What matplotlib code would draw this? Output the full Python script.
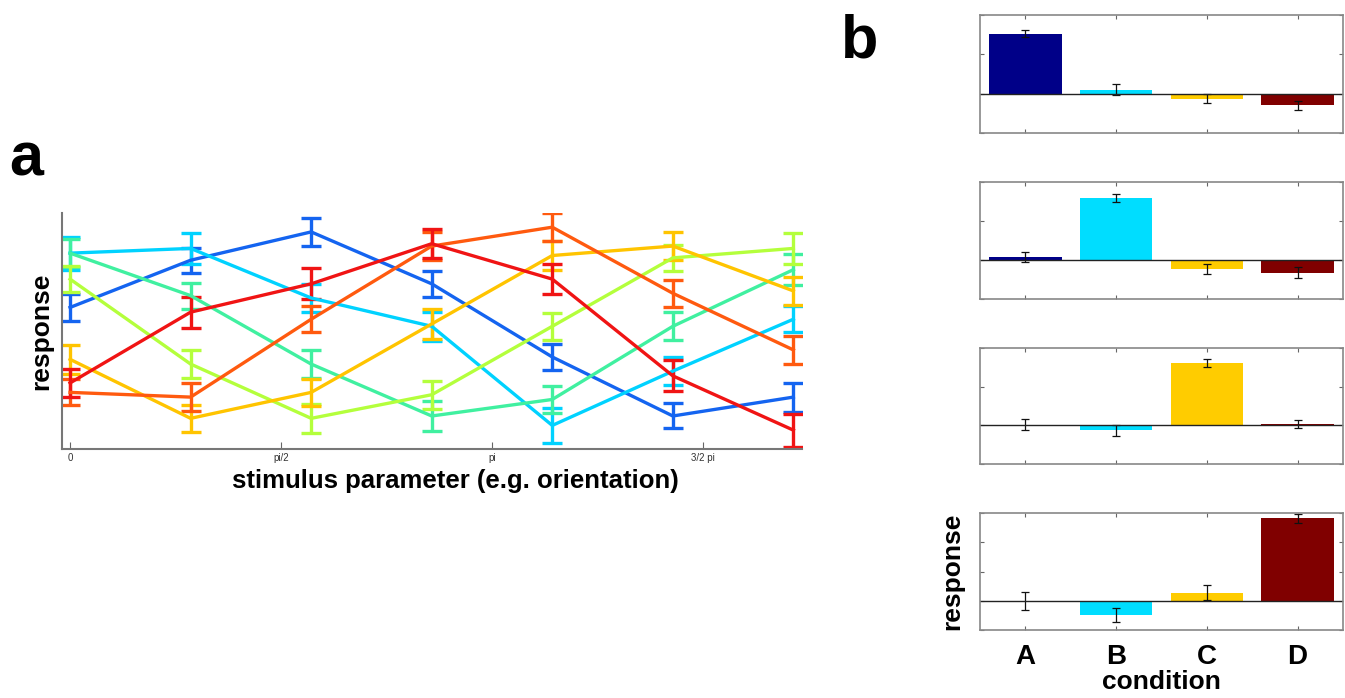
import numpy as np
import matplotlib
matplotlib.use('Agg')
import matplotlib.pyplot as plt

plt.rcParams['font.family'] = ['Liberation Sans', 'DejaVu Sans']

# ---- panel a data: 7 tuning curves sampled at 7 stimulus values ----
stim = np.array([0, 2, 4, 6, 8, 10, 12]) * np.pi / 7

blue = [0.60, 0.80, 0.92, 0.70, 0.39, 0.14, 0.22]
cyan = [0.83, 0.85, 0.64, 0.52, 0.10, 0.33, 0.55]
green = [0.83, 0.65, 0.36, 0.14, 0.21, 0.52, 0.76]
lime = [0.72, 0.36, 0.13, 0.23, 0.52, 0.81, 0.85]
yellow = [0.38, 0.13, 0.24, 0.53, 0.82, 0.86, 0.67]
orange = [0.24, 0.22, 0.55, 0.86, 0.94, 0.66, 0.42]
red = [0.28, 0.58, 0.70, 0.87, 0.72, 0.31, 0.08]

blue_err = [0.057, 0.053, 0.061, 0.055, 0.057, 0.053, 0.061]
cyan_err = [0.070, 0.066, 0.060, 0.061, 0.075, 0.060, 0.055]
green_err = [0.060, 0.055, 0.060, 0.062, 0.058, 0.060, 0.065]
lime_err = [0.055, 0.060, 0.062, 0.060, 0.058, 0.055, 0.065]
yellow_err = [0.060, 0.058, 0.058, 0.062, 0.060, 0.058, 0.060]
orange_err = [0.055, 0.060, 0.055, 0.058, 0.060, 0.058, 0.060]
red_err = [0.060, 0.066, 0.066, 0.062, 0.064, 0.066, 0.070]

curves = [blue, cyan, green, lime, yellow, orange, red]
curve_errs = [blue_err, cyan_err, green_err, lime_err, yellow_err, orange_err, red_err]
curve_colors = ['#1464F0', '#00D2FF', '#40F0A0', '#B4FF3C', '#FFC400', '#FF5A0F', '#F01414']

tick_pos = [0, np.pi / 2, np.pi, 3 * np.pi / 2]
tick_labels = ['0', 'pi/2', 'pi', '3/2 pi']

# ---- panel b data: mean response per condition, one row per curve ----
conditions = ['A', 'B', 'C', 'D']
row1 = [1.52, 0.10, -0.13, -0.30]
row2 = [0.08, 1.59, -0.23, -0.33]
row3 = [0.02, -0.13, 1.62, 0.04]
row4 = [0.00, -0.48, 0.28, 2.82]
row1_err = [0.09, 0.14, 0.11, 0.12]
row2_err = [0.13, 0.10, 0.12, 0.14]
row3_err = [0.14, 0.15, 0.10, 0.11]
row4_err = [0.30, 0.24, 0.27, 0.15]
rows = [row1, row2, row3, row4]
row_errs = [row1_err, row2_err, row3_err, row4_err]
row_ylims = [(-1, 2), (-1, 2), (-1, 2), (-1, 3)]
bar_colors = ['#000088', '#00DDFF', '#FFCC00', '#800000']

fig = plt.figure(figsize=(13.45, 6.98), dpi=100)

# ---------------- panel a ----------------
ax = fig.add_axes([0.0461, 0.3567, 0.5502, 0.3381])
for vals, errs, col in zip(curves, curve_errs, curve_colors):
    ax.errorbar(stim, vals, yerr=errs, color=col, linewidth=2.4,
                capsize=7, capthick=2.4, elinewidth=2.4)
ax.set_xlim(-0.06, 5.45)
ax.set_ylim(0, 1)
ax.set_xticks(tick_pos)
ax.set_xticklabels(tick_labels, fontsize=7, color='#333333')
ax.set_yticks([])
ax.tick_params(axis='x', direction='in', length=5, color='#666666', pad=3)
for side in ['top', 'right']:
    ax.spines[side].set_visible(False)
for side in ['left', 'bottom']:
    ax.spines[side].set_color('#777777')
    ax.spines[side].set_linewidth(1.5)
ax.set_xlabel('stimulus parameter (e.g. orientation)', fontsize=18.5,
              fontweight='bold')
ax.xaxis.set_label_coords(0.532, -0.085)
ax.set_ylabel('response', fontsize=19, fontweight='bold', labelpad=6)

# ---------------- panel b ----------------
bottoms = [0.8095, 0.5716, 0.3352, 0.0974]
heights = [0.1691, 0.1676, 0.1662, 0.1676]
xpos = np.arange(1, len(conditions) + 1)
for i, (vals, errs, ylim) in enumerate(zip(rows, row_errs, row_ylims)):
    bx = fig.add_axes([0.7286, bottoms[i], 0.2699, heights[i]])
    bx.bar(xpos, vals, width=0.8, color=bar_colors)
    bx.errorbar(xpos, vals, yerr=errs, fmt='none', ecolor='#111111',
                elinewidth=0.9, capsize=3, capthick=0.9)
    bx.axhline(0, color='#222222', linewidth=1.0)
    bx.set_xlim(0.5, 4.5)
    bx.set_ylim(*ylim)
    bx.set_xticks(xpos)
    bx.set_yticks(np.arange(ylim[0], ylim[1] + 1))
    bx.set_yticklabels([])
    bx.tick_params(direction='in', length=3, color='#666666',
                   top=True, right=True)
    for sp in bx.spines.values():
        sp.set_color('#888888')
        sp.set_linewidth(1.2)
    if i == 3:
        bx.set_xticklabels(conditions, fontsize=20, fontweight='bold')
        bx.tick_params(axis='x', pad=10)
        bx.set_xlabel('condition', fontsize=19, fontweight='bold', labelpad=0)
        bx.set_ylabel('response', fontsize=19, fontweight='bold', labelpad=8)
    else:
        bx.set_xticklabels([])

fig.text(0.007, 0.749, 'a', fontsize=44, fontweight='bold')
fig.text(0.625, 0.918, 'b', fontsize=44, fontweight='bold')

fig.savefig('out.png', dpi=100, facecolor='white')
